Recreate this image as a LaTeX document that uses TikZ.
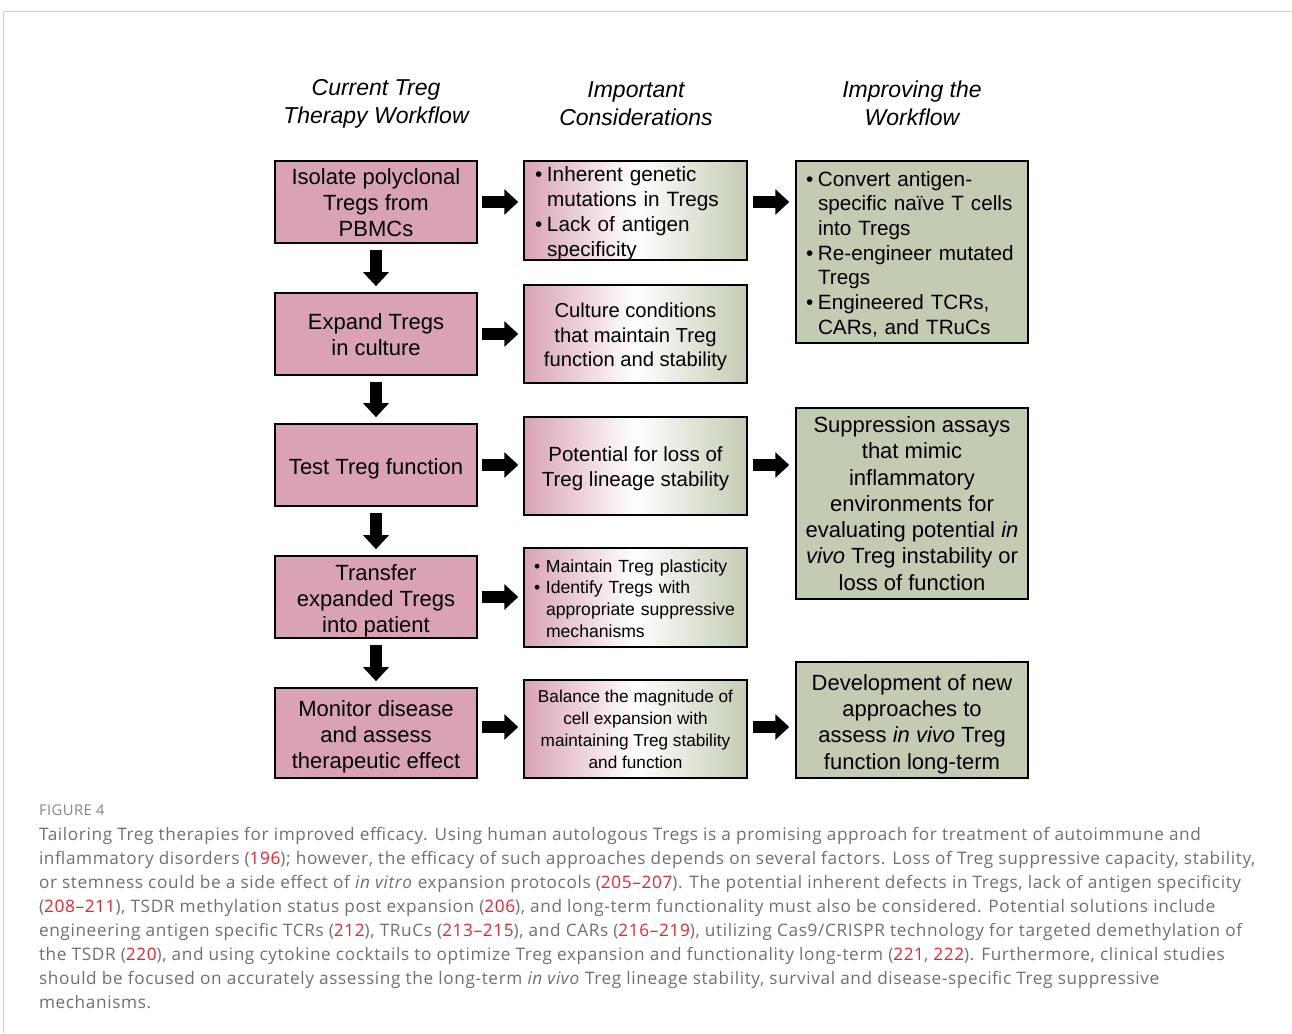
\documentclass[tikz,border=0pt]{standalone}
\usepackage{fontspec}
\setmainfont{Liberation Sans}
\newfontfamily\capfont[LetterSpace=3.7]{Open Sans}
\newfontfamily\figfont[LetterSpace=3]{Open Sans}
\usetikzlibrary{arrows.meta,calc}
\definecolor{pinkc}{HTML}{D9A3B5}
\definecolor{greenc}{HTML}{C3CCB3}
\definecolor{capgray}{HTML}{707070}
\definecolor{figgray}{HTML}{858585}
\definecolor{refred}{HTML}{E3262F}
\definecolor{framegray}{HTML}{CCCCCC}
\newcommand\rf[1]{\textcolor{refred}{#1}}
\newcommand\bul{\makebox[12pt][l]{\textbullet}}
\newcommand\ind{\hspace*{12pt}}
\newcommand\strt[1]{\rule{0pt}{#1}}
\tikzset{
  every node/.style={inner sep=0pt, outer sep=0pt},
  boxbase/.style={draw=black, line width=2.4pt, align=center},
  c1box/.style={boxbase, fill=pinkc, minimum width=201.5pt, font=\fontsize{22}{26}\selectfont},
  c2box/.style={boxbase, left color=pinkc, right color=greenc, middle color=white, minimum width=222.5pt},
  c3box/.style={boxbase, fill=greenc, minimum width=231.5pt, font=\fontsize{22}{26.3}\selectfont},
  headtxt/.style={align=center, font=\fontsize{23}{28}\selectfont\itshape},
  blockarr/.style={line width=12pt, -{Triangle[length=14pt,width=25pt]}},
  captxt/.style={anchor=base west, font=\capfont\fontsize{17.2}{24}\selectfont, text=capgray},
}
\begin{document}
\begin{tikzpicture}[x=1pt,y=-1pt]
\useasboundingbox (0,0) rectangle (1292,1033);
\fill[white] (0,0) rectangle (1292,1033);
% frame
\draw[framegray, line width=1pt] (3.5,1033) -- (3.5,11.5) -- (1292,11.5);

% headers
\node[headtxt] (h1) at (376,103.5) {Current Treg\\Therapy Workflow};
\node[headtxt] (h2) at (636,103.5) {Important\\Considerations};
\node[headtxt] (h3) at (912,103.5) {Improving the\\Workflow};

% column 1
\node[c1box, minimum height=81.6pt] (a1) at (376,202) {\strt{18pt}Isolate polyclonal\\Tregs from\\PBMCs};
\node[c1box, minimum height=81.6pt] (a2) at (376,334) {\strt{18pt}Expand Tregs\\in culture};
\node[c1box, minimum height=81.6pt] (a3) at (376,465) {\strt{24pt}Test Treg function};
\node[c1box, minimum height=81.6pt] (a4) at (376,597) {\strt{24pt}Transfer\\expanded Tregs\\into patient};
\node[c1box, minimum height=89.6pt] (a5) at (376,733) {\strt{24pt}Monitor disease\\and assess\\therapeutic effect};

% column 2
\node[c2box, minimum height=98.6pt] (b1) at (635.5,210.5) {};
\node[align=left, text width=201pt, font=\fontsize{20.7}{25}\selectfont] (b1t) at ($(b1.center)+(0,3)$)
  {\bul Inherent genetic\\\ind mutations in Tregs\\\bul Lack of antigen\\\ind specificity};
\node[c2box, minimum height=97.6pt, font=\fontsize{20.2}{24.5}\selectfont] (b2) at (635.5,334)
  {\strt{21pt}Culture conditions\\that maintain Treg\\function and stability};
\node[c2box, minimum height=97.6pt, font=\fontsize{20.5}{25}\selectfont] (b3) at (635.5,466)
  {\strt{21pt}Potential for loss of\\Treg lineage stability};
\node[c2box, minimum height=98.6pt, align=left, text width=203pt, font=\fontsize{17.6}{21.7}\selectfont] (b4) at (635.5,597.5)
  {\strt{14.5pt}\bul Maintain Treg plasticity\\\bul Identify Tregs with\\\ind appropriate suppressive\\\ind mechanisms};
\node[c2box, minimum height=97.6pt, font=\fontsize{17.2}{22}\selectfont] (b5) at (635.5,729)
  {\strt{14pt}Balance the magnitude of\\cell expansion with\\maintaining Treg stability\\and function};

% column 3
\node[c3box, minimum height=181.6pt, align=left, text width=212pt, font=\fontsize{20.7}{24.7}\selectfont] (d1) at (912,252)
  {\strt{19pt}\bul Convert antigen-\\\ind specific na\"ive T cells\\\ind into Tregs\\\bul Re-engineer mutated\\\ind Tregs\\\bul Engineered TCRs,\\\ind CARs, and TRuCs};
\node[c3box, minimum height=190.6pt] (d2) at (912,503.5)
  {Suppression assays\\that mimic\\inflammatory\\environments for\\evaluating potential \textit{in}\\\textit{vivo} Treg instability or\\loss of function};
\node[c3box, minimum height=115.6pt] (d3) at (912,720)
  {\strt{24pt}Development of new\\approaches to\\assess \textit{in vivo} Treg\\function long-term};

% down arrows
\foreach \p/\q in {a1/a2,a2/a3,a3/a4,a4/a5}
  \draw[blockarr, shorten <=7pt, shorten >=7pt] (\p.south) -- (\q.north);

% right arrows col1 -> col2
\foreach \p/\q in {a1/b1,a2/b2,a3/b3,a4/b4}
  \draw[blockarr, shorten <=5pt, shorten >=6pt] (\p.east) -- (\p.east -| \q.west);
\draw[blockarr, shorten <=5pt, shorten >=6pt] ($(a5.east)+(0,-6)$) -- ($(a5.east -| b5.west)+(0,-6)$);

% right arrows col2 -> col3
\draw[blockarr, shorten <=6pt, shorten >=7pt] (b1.east |- a1.east) -- (d1.west |- a1.east);
\draw[blockarr, shorten <=6pt, shorten >=7pt] (b3.east |- a3.east) -- (d2.west |- a3.east);
\draw[blockarr, shorten <=6pt, shorten >=7pt] ($(b5.east |- a5.east)+(0,-6)$) -- ($(d3.west |- a5.east)+(0,-6)$);

% caption
\node[anchor=base west, font=\figfont\fontsize{14.8}{16}\selectfont, text=figgray] (fig) at (39,815) {FIGURE 4};
\node[captxt] (l1) at (39,840) {Tailoring Treg therapies for improved efficacy. Using human autologous Tregs is a promising approach for treatment of autoimmune and};
\node[captxt] (l2) at (39,864) {inflammatory disorders (\rf{196}); however, the efficacy of such approaches depends on several factors. Loss of Treg suppressive capacity, stability,};
\node[captxt] (l3) at (39,888) {or stemness could be a side effect of \textit{in vitro} expansion protocols (\rf{205–207}). The potential inherent defects in Tregs, lack of antigen specificity};
\node[captxt] (l4) at (39,912) {(\rf{208–211}), TSDR methylation status post expansion (\rf{206}), and long-term functionality must also be considered. Potential solutions include};
\node[captxt] (l5) at (39,936) {engineering antigen specific TCRs (\rf{212}), TRuCs (\rf{213–215}), and CARs (\rf{216–219}), utilizing Cas9/CRISPR technology for targeted demethylation of};
\node[captxt] (l6) at (39,960) {the TSDR (\rf{220}), and using cytokine cocktails to optimize Treg expansion and functionality long-term (\rf{221}, \rf{222}). Furthermore, clinical studies};
\node[captxt] (l7) at (39,984) {should be focused on accurately assessing the long-term \textit{in vivo} Treg lineage stability, survival and disease-specific Treg suppressive};
\node[captxt] (l8) at (39,1008) {mechanisms.};
\end{tikzpicture}
\end{document}
